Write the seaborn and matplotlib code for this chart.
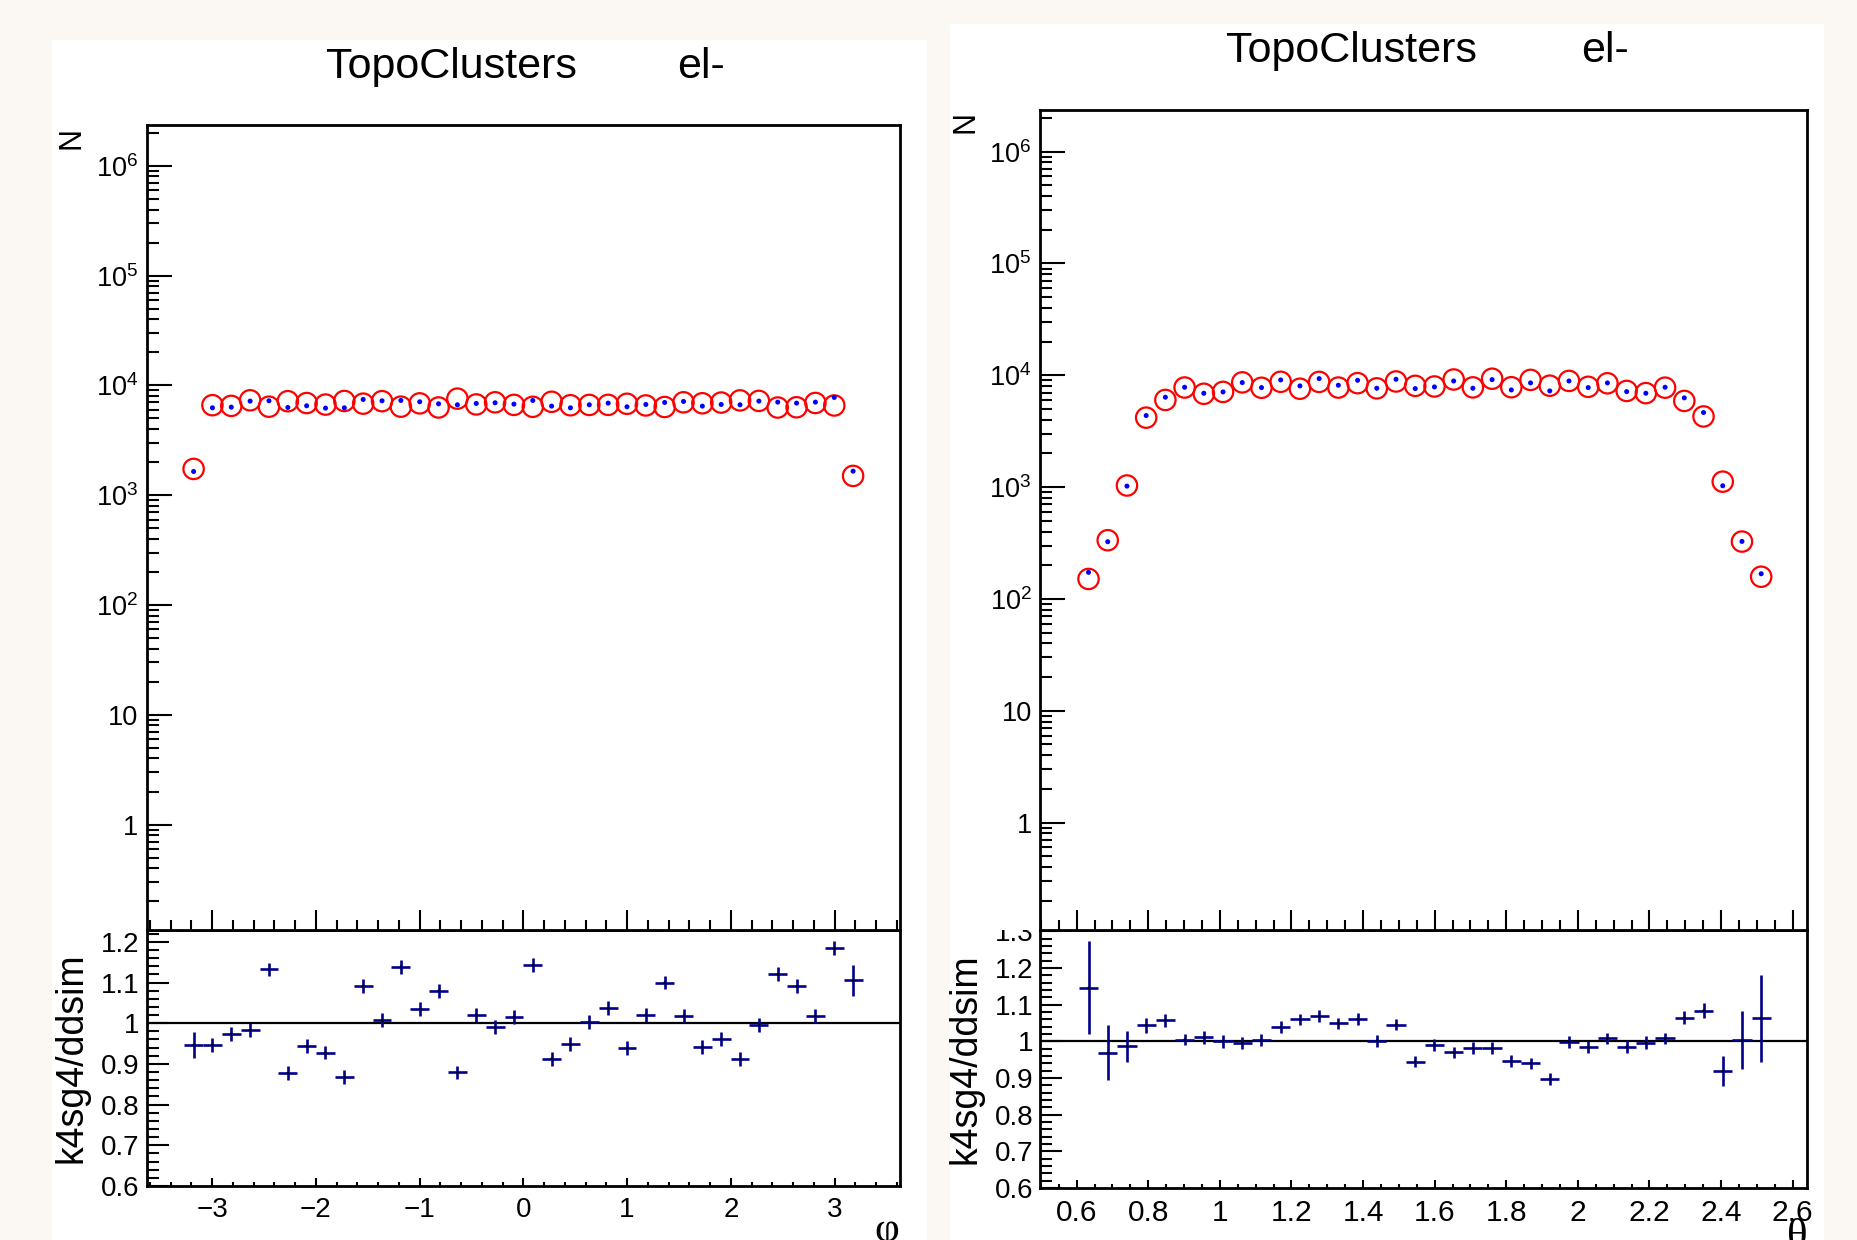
import numpy as np
import pandas as pd
import seaborn as sns
import matplotlib.pyplot as plt
from matplotlib.patches import Rectangle
from matplotlib.ticker import LogLocator, MultipleLocator, FuncFormatter, NullFormatter

#%% data read off the two ROOT canvases (36 bins each)
phi_first, phi_last = -3.178, 3.178
phi_k4 = [1644, 6256, 6345, 7196, 7247, 6300, 6524, 6212, 6256, 7452, 7247, 7298,
          7097, 6804, 6664, 6853, 6949, 6757, 7298, 6479, 6256, 6664, 6901, 6390,
          6710, 6998, 7146, 6479, 6710, 6664, 7196, 7047, 6901, 7047, 7775, 1656]
phi_ddsim = [1736, 6606, 6514, 7320, 6402, 7184, 6911, 6694, 7216, 6824, 7189, 6407,
             6864, 6300, 7581, 6712, 7019, 6651, 6388, 7096, 6599, 6644, 6652, 6805,
             6572, 6362, 7020, 6878, 6982, 7307, 7232, 6292, 6325, 6922, 6567, 1499]
phi_ratio = [0.947, 0.947, 0.974, 0.983, 1.132, 0.877, 0.944, 0.928, 0.867, 1.092, 1.008, 1.139,
             1.034, 1.080, 0.879, 1.021, 0.990, 1.016, 1.142, 0.913, 0.948, 1.003, 1.037, 0.939,
             1.021, 1.100, 1.018, 0.942, 0.961, 0.912, 0.995, 1.120, 1.091, 1.018, 1.184, 1.105]
phi_ratio_err = [0.032, 0.017, 0.017, 0.017, 0.017, 0.017, 0.017, 0.017, 0.017, 0.017, 0.017, 0.017,
                 0.017, 0.017, 0.017, 0.017, 0.017, 0.017, 0.017, 0.017, 0.017, 0.017, 0.017, 0.017,
                 0.017, 0.017, 0.017, 0.017, 0.017, 0.017, 0.017, 0.017, 0.017, 0.017, 0.017, 0.039]

theta_first, theta_last = 0.633, 2.512
theta_k4 = [173, 325, 1021, 4365, 6368, 7814, 6906, 7100, 8606, 7762, 9086, 8035,
            9338, 8147, 9021, 7656, 9211, 7603, 7870, 8894, 7656, 9149, 7396, 8548,
            7247, 8894, 7762, 8548, 7145, 6906, 7814, 6282, 4645, 1028, 327, 168]
theta_ddsim = [151, 335, 1034, 4181, 6019, 7775, 6831, 7100, 8641, 7731, 8745, 7580,
               8727, 7766, 8502, 7641, 8806, 8045, 7941, 9169, 7796, 9317, 7818, 9094,
               8070, 8903, 7888, 8480, 7246, 6927, 7752, 5899, 4285, 1119, 326, 158]
theta_ratio = [1.146, 0.969, 0.987, 1.044, 1.058, 1.005, 1.011, 1.000, 0.996, 1.004, 1.039, 1.060,
               1.070, 1.049, 1.061, 1.002, 1.046, 0.945, 0.991, 0.970, 0.982, 0.982, 0.946, 0.940,
               0.898, 0.999, 0.984, 1.008, 0.986, 0.997, 1.008, 1.065, 1.084, 0.919, 1.004, 1.063]
theta_ratio_err = [0.127, 0.075, 0.042, 0.021, 0.018, 0.016, 0.017, 0.017, 0.016, 0.016, 0.016, 0.016,
                   0.016, 0.016, 0.016, 0.016, 0.016, 0.016, 0.016, 0.016, 0.016, 0.016, 0.016, 0.016,
                   0.016, 0.016, 0.016, 0.016, 0.017, 0.017, 0.016, 0.018, 0.021, 0.042, 0.079, 0.118]

title_left, title_right = 'TopoClusters', 'el-'
ratio_label = 'k4sg4/ddsim'

#%% style
sns.set_style('white')
plt.rcParams['font.family'] = ['Liberation Sans', 'DejaVu Sans']
plt.rcParams['mathtext.fontset'] = 'custom'
plt.rcParams['mathtext.rm'] = 'Liberation Sans'
plt.rcParams['mathtext.it'] = 'Liberation Sans:italic'
plt.rcParams['axes.linewidth'] = 2.0
plt.rcParams['axes.edgecolor'] = 'black'
for key in ['text.color', 'axes.labelcolor', 'xtick.color', 'ytick.color']:
    plt.rcParams[key] = 'black'

W, H = 1857, 1240
fig = plt.figure(figsize=(W / 100, H / 100), dpi=100)
fig.patch.set_facecolor('#fbf8f3')


def box(x0, y0, x1, y1):
    # pixel box (top-left origin) -> figure fraction rect
    return [x0 / W, 1 - y1 / H, (x1 - x0) / W, (y1 - y0) / H]


def white_rect(x0, y0, x1, y1, z):
    r = Rectangle((x0 / W, 1 - y1 / H), (x1 - x0) / W, (y1 - y0) / H,
                  transform=fig.transFigure, facecolor='white', edgecolor='none', zorder=z)
    fig.patches.append(r)


def log_fmt(v, pos):
    n = int(round(np.log10(v)))
    if n == 0:
        return '1'
    if n == 1:
        return '10'
    return r'$10^{%d}$' % n


def num_fmt(v, pos):
    return f'{v:g}'.replace('-', '\u2212')


panels = [
    dict(first=phi_first, last=phi_last, k4=phi_k4, dd=phi_ddsim,
         ratio=phi_ratio, err=phi_ratio_err, sym='\u03c6', xlab=20,
         white=(52, 40, 927, 1240), main=(146.7, 125, 900, 930), rat=(146.7, 930, 900, 1186),
         xlim=(-3.63, 3.63), rylim=(0.6, 1.229), xmaj=1.0, xmin=0.2,
         title_y=78, t1x=451, t2x=701, nlab=(72, 127), rlab=(72, 1058), sym_pos=(899, 1211)),
    dict(first=theta_first, last=theta_last, k4=theta_k4, dd=theta_ddsim,
         ratio=theta_ratio, err=theta_ratio_err, sym='\u03b8', xlab=21.5,
         white=(950, 24, 1824, 1240), main=(1040, 110, 1807, 930), rat=(1040, 930, 1807, 1188),
         xlim=(0.4975, 2.64), rylim=(0.6, 1.304), xmaj=0.2, xmin=0.05,
         title_y=62, t1x=1351, t2x=1605, nlab=(965, 111), rlab=(966, 1059), sym_pos=(1808, 1219)),
]

for p in panels:
    white_rect(*p['white'], z=-10)
    # upper pad hides whatever of the ratio pad sticks out above it
    white_rect(p['white'][0], p['main'][3] - 40, p['main'][0], p['main'][3], z=2)

    centers = np.linspace(p['first'], p['last'], len(p['k4']))
    half = (centers[1] - centers[0]) / 2
    df = pd.DataFrame({'x': centers, 'k4': p['k4'], 'ddsim': p['dd'],
                       'ratio': p['ratio'], 'err': p['err']})

    # main log panel
    ax = fig.add_axes(box(*p['main']))
    ax.set_zorder(3)
    ax.set_facecolor('white')
    sns.scatterplot(data=df, x='x', y='ddsim', ax=ax, marker='o', s=215,
                    facecolors='none', edgecolor='red', linewidth=1.6,
                    legend=False, zorder=3)
    sns.scatterplot(data=df, x='x', y='k4', ax=ax, marker='o', s=13,
                    color='blue', edgecolor='none', legend=False, zorder=4)
    ax.set_yscale('log')
    ax.set_ylim(10 ** -0.96, 10 ** 6.372)
    ax.set_xlim(*p['xlim'])
    ax.yaxis.set_major_locator(LogLocator(base=10, numticks=30))
    ax.yaxis.set_minor_locator(LogLocator(base=10, subs=np.arange(2, 10), numticks=100))
    ax.yaxis.set_major_formatter(FuncFormatter(log_fmt))
    ax.yaxis.set_minor_formatter(NullFormatter())
    ax.xaxis.set_major_locator(MultipleLocator(p['xmaj']))
    ax.xaxis.set_minor_locator(MultipleLocator(p['xmin']))
    ax.tick_params(axis='y', which='major', direction='in', length=18, width=1.5,
                   labelsize=19.5, pad=6, right=False, left=True)
    ax.tick_params(axis='y', which='minor', direction='in', length=8.6, width=1.5,
                   right=False, left=True)
    ax.tick_params(axis='x', which='major', direction='in', length=14.4, width=1.5,
                   labelbottom=False, top=False, bottom=True)
    ax.tick_params(axis='x', which='minor', direction='in', length=7.2, width=1.5,
                   top=False, bottom=True)
    ax.set_xlabel('')
    ax.set_ylabel('')

    # ratio panel
    rx = fig.add_axes(box(*p['rat']))
    rx.set_zorder(1)
    rx.set_facecolor('white')
    rx.axhline(1.0, color='black', lw=1.6, zorder=2)
    rx.errorbar(df['x'], df['ratio'], xerr=half, yerr=df['err'], fmt='none',
                ecolor='#00008b', elinewidth=1.9, capsize=0, zorder=3)
    sns.scatterplot(data=df, x='x', y='ratio', ax=rx, marker='o', s=3,
                    color='black', edgecolor='none', legend=False, zorder=4)
    rx.set_xlim(*p['xlim'])
    rx.set_ylim(*p['rylim'])
    rx.xaxis.set_major_locator(MultipleLocator(p['xmaj']))
    rx.xaxis.set_minor_locator(MultipleLocator(p['xmin']))
    rx.yaxis.set_major_locator(MultipleLocator(0.1))
    rx.yaxis.set_minor_locator(MultipleLocator(0.02))
    rx.xaxis.set_major_formatter(FuncFormatter(num_fmt))
    rx.yaxis.set_major_formatter(FuncFormatter(num_fmt))
    rx.tick_params(axis='y', which='major', direction='in', length=15.8, width=1.5,
                   labelsize=20, pad=5, right=False, left=True)
    rx.tick_params(axis='y', which='minor', direction='in', length=8.6, width=1.5,
                   right=False, left=True)
    rx.tick_params(axis='x', which='major', direction='in', length=5.8, width=1.5,
                   labelsize=p['xlab'], pad=8, top=False, bottom=True)
    rx.tick_params(axis='x', which='minor', direction='in', length=2.9, width=1.5,
                   top=False, bottom=True)
    rx.set_xlabel('')
    rx.set_ylabel('')

    # texts
    fig.text(p['t1x'] / W, 1 - p['title_y'] / H, title_left, fontsize=31,
             ha='center', va='baseline')
    fig.text(p['t2x'] / W, 1 - p['title_y'] / H, title_right, fontsize=31,
             ha='center', va='baseline')
    fig.text(p['nlab'][0] / W, 1 - p['nlab'][1] / H, 'N', fontsize=22,
             rotation=90, ha='center', va='top')
    fig.text(p['rlab'][0] / W, 1 - p['rlab'][1] / H, ratio_label, fontsize=27,
             rotation=90, ha='center', va='center')
    fig.text(p['sym_pos'][0] / W, 1 - p['sym_pos'][1] / H, p['sym'], fontsize=31,
             ha='right', va='top', family=['Liberation Serif', 'DejaVu Serif'])

plt.savefig('out.png', dpi=100, facecolor=fig.get_facecolor())
